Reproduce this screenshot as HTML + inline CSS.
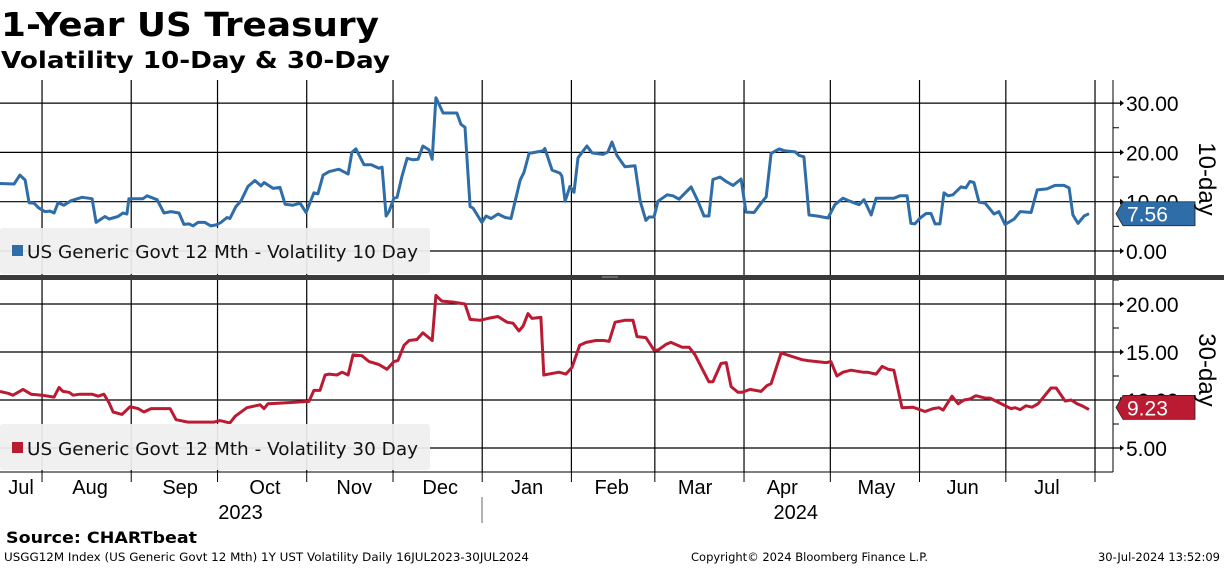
<!DOCTYPE html>
<html><head><meta charset="utf-8"><style>
body{margin:0;background:#fff;width:1224px;height:566px;overflow:hidden;font-family:"Liberation Sans",sans-serif;}
svg text{font-family:"Liberation Sans",sans-serif;}
svg text.dv{font-family:"DejaVu Sans",sans-serif;}
</style></head><body>
<svg id="chart" width="1224" height="566" xmlns="http://www.w3.org/2000/svg">
<text class="dv" x="1" y="36" font-size="33" font-weight="bold" fill="#000" textLength="378" lengthAdjust="spacingAndGlyphs">1-Year US Treasury</text>
<text class="dv" x="1" y="68" font-size="23" font-weight="bold" fill="#000" textLength="389" lengthAdjust="spacingAndGlyphs">Volatility 10-Day &amp; 30-Day</text>
<g id="grid"></g>
<g id="series"></g>
<g id="labels"></g>
<rect x="0" y="275" width="1224" height="5" fill="#3a3a3a"/>
<line x1="602" y1="277" x2="618" y2="277" stroke="#999" stroke-width="1"/>
<g>
<rect x="0" y="228" width="430" height="46" rx="3" fill="#efefef" fill-opacity="0.93"/>
<rect x="12" y="245" width="11" height="11" fill="#2e6da8"/>
<text class="dv" x="27" y="258" font-size="18" fill="#111" textLength="391" lengthAdjust="spacingAndGlyphs">US Generic Govt 12 Mth - Volatility 10 Day</text>
</g>
<g>
<rect x="0" y="424" width="430" height="46" rx="3" fill="#efefef" fill-opacity="0.93"/>
<rect x="12" y="442" width="11" height="11" fill="#bb1a33"/>
<text class="dv" x="27" y="455" font-size="18" fill="#111" textLength="391" lengthAdjust="spacingAndGlyphs">US Generic Govt 12 Mth - Volatility 30 Day</text>
</g>
<text class="dv" x="6" y="543" font-size="16" font-weight="bold" textLength="191" lengthAdjust="spacingAndGlyphs">Source: CHARTbeat</text>
<text class="dv" x="4" y="561" font-size="11.5" textLength="525" lengthAdjust="spacingAndGlyphs">USGG12M Index (US Generic Govt 12 Mth) 1Y UST Volatility  Daily 16JUL2023-30JUL2024</text>
<text class="dv" x="691" y="561" font-size="11.5">Copyright© 2024 Bloomberg Finance L.P.</text>
<text class="dv" x="1220" y="561" font-size="11.5" text-anchor="end">30-Jul-2024 13:52:09</text>
</svg>
<script>
const monthDays=[16,47,77,108,138,169,200,229,260,290,321,351,382];
const monthLabels=["Jul","Aug","Sep","Oct","Nov","Dec","Jan","Feb","Mar","Apr","May","Jun","Jul"];
const monthLabelDays=[8.7,32.7,64,93.5,124.5,154.4,184.6,214,243,273.3,306,336,365.3];
const yearLabels=["2023","2024"];
const topTicks=[0,10,20,30];
const botTicks=[5,10,15,20];
const days10=[1.4,6.3,8.3,10.1,11.5,13.2,14.9,17.0,18.8,20.2,21.6,23.6,26.1,29.9,33.4,34.8,37.9,39.3,42.4,44.1,45.5,46.2,51.1,52.5,56.0,58.4,60.8,63.6,65.3,67.1,68.5,70.2,72.6,74.7,76.5,78.2,80.3,81.3,83.4,85.2,87.6,90.0,92.1,93.2,96.3,98.7,100.5,103.2,105.7,107.8,110.5,111.9,113.7,115.8,119.2,122.4,123.7,125.1,127.9,130.4,133.1,134.2,135.6,136.6,138.3,139.4,141.1,142.9,145.0,146.7,148.4,150.5,151.6,152.9,155.4,160.2,161.6,163.0,164.8,165.8,168.9,170.3,172.1,174.5,177.0,179.0,182.2,183.5,185.3,190.1,190.8,193.3,196.0,196.7,197.8,199.5,200.9,202.3,205.4,207.2,211.0,212.7,214.1,215.8,218.6,222.1,223.9,225.9,227.0,228.7,230.1,233.3,235.3,237.4,241.6,243.9,246.1,247.8,249.2,251.7,253.8,256.2,259.0,260.7,263.5,265.9,267.7,269.4,272.2,274.3,277.8,279.1,280.8,282.6,285.4,289.2,291.6,294.4,296.8,300.0,301.7,304.2,305.9,312.1,314.2,316.7,318.0,319.4,321.2,323.3,325.0,326.4,328.1,329.5,330.9,332.6,335.4,337.1,338.5,339.9,341.7,343.8,346.9,348.6,350.7,353.9,356.0,358.4,359.8,361.9,365.3,368.1,371.2,373.0,374.3,376.1,378.2,379.9];
const vol10=[13.7,13.6,15.4,14.4,9.8,9.7,8.7,8.0,8.1,7.7,9.8,9.3,10.2,10.9,10.6,5.8,7.0,6.5,7.0,7.7,7.5,10.6,10.6,11.2,10.4,7.7,8.0,7.7,5.4,5.5,5.1,5.8,5.8,5.1,5.3,5.8,6.8,6.6,9.0,10.2,13.1,14.3,13.2,13.9,12.7,12.9,9.5,9.3,9.7,7.8,11.8,11.6,15.4,16.1,16.6,15.6,20.0,20.7,17.5,17.5,16.8,17.0,7.1,8.0,10.7,10.9,15.1,18.8,18.5,18.6,21.3,20.5,18.6,31.1,28.0,28.0,25.7,25.1,9.0,8.7,5.8,7.1,6.6,7.5,6.8,6.6,14.4,15.9,19.8,20.3,20.8,16.4,15.8,15.2,10.1,13.1,11.9,18.9,21.3,19.9,19.6,20.1,22.1,19.4,17.1,17.3,10.1,6.2,6.9,6.9,10.1,11.4,11.2,10.5,13.0,10.2,7.1,7.1,14.5,15.0,14.1,13.3,14.6,7.9,7.8,9.7,11.0,19.8,20.7,20.3,20.1,19.4,19.1,7.3,7.1,6.7,9.4,10.7,10.1,9.4,10.4,7.3,10.7,10.7,11.2,11.2,5.6,5.5,6.7,7.6,7.6,5.5,5.5,11.8,11.2,11.4,13.0,12.8,14.1,13.9,9.9,9.7,7.5,8.0,5.4,6.5,8.0,7.9,7.8,12.4,12.6,13.3,13.3,12.8,7.3,5.6,7.1,7.56];
const days30=[1.4,4.2,5.9,9.4,12.2,16.0,20.2,21.9,23.3,25.4,26.8,29.2,33.4,35.5,37.5,39.3,40.7,43.8,46.6,49.4,51.4,53.9,60.5,62.6,66.7,75.8,77.9,80.0,81.3,83.1,87.2,91.8,93.2,94.5,97.3,103.2,108.8,110.5,112.6,114.4,115.8,118.5,120.3,122.4,124.1,127.2,129.7,133.1,135.9,138.3,139.7,141.8,143.6,146.3,148.4,151.6,152.9,155.0,158.9,163.0,164.8,168.2,171.0,174.5,177.6,179.7,181.8,183.2,184.9,186.3,189.4,190.4,195.7,198.1,200.2,202.9,205.1,208.5,211.3,213.1,215.2,218.6,221.4,222.8,225.9,228.7,230.1,232.9,234.6,238.5,240.9,243.0,245.7,247.8,249.2,252.0,253.8,255.5,257.9,259.3,262.1,265.9,268.0,269.4,272.9,280.2,282.2,288.5,290.2,292.3,294.4,297.2,301.4,302.8,305.9,308.0,310.1,312.1,314.9,318.7,322.9,325.7,327.8,329.2,332.3,334.4,336.5,338.5,340.6,343.8,345.5,352.8,354.2,356.0,358.0,360.1,362.2,366.7,368.5,371.6,373.7,375.8,377.5,379.9];
const vol30=[10.9,10.7,10.5,11.1,10.6,10.5,10.3,11.3,10.9,10.8,10.5,10.6,10.6,10.4,10.6,9.7,8.75,8.5,9.3,9.1,8.75,9.1,9.1,7.95,7.7,7.7,7.85,7.7,7.6,8.3,9.2,9.5,9.1,9.6,9.65,9.75,9.85,11.0,11.0,12.6,12.7,12.6,12.9,12.6,14.7,14.6,14.0,13.7,13.2,14.0,14.1,15.7,16.2,16.3,17.0,16.2,20.9,20.3,20.2,20.0,18.4,18.3,18.5,18.7,18.1,18.0,17.2,17.7,19.0,18.5,18.6,12.6,12.9,12.7,13.4,15.7,16.0,16.2,16.2,16.1,18.1,18.3,18.3,16.6,16.5,15.2,15.2,15.8,16.0,15.5,15.5,14.7,13.1,11.9,11.9,13.8,13.9,11.4,10.8,10.8,11.1,10.9,11.5,11.7,14.9,14.2,14.1,13.9,14.0,12.5,12.9,13.1,12.9,12.9,12.7,13.5,13.2,13.1,9.2,9.25,8.8,9.1,9.2,8.95,10.4,9.6,10.0,10.1,10.45,10.2,10.2,9.1,9.2,9.0,9.4,9.25,9.6,11.25,11.25,9.9,10.0,9.6,9.4,9.0,9.23];

const NS="http://www.w3.org/2000/svg";
const AX=1113;
function x(d){return -4+d*2.877;}
function yTop(v){return 251-v*4.93;}
function yBot(v){return 448-(v-5)*9.6;}
function mk(tag,attrs,parent){const e=document.createElementNS(NS,tag);for(const k in attrs)e.setAttribute(k,attrs[k]);parent.appendChild(e);return e;}
const grid=document.getElementById('grid'),ser=document.getElementById('series'),lab=document.getElementById('labels');

monthDays.forEach(d=>{
  const l=mk('line',{x1:x(d),x2:x(d),y1:80,y2:472,stroke:'#000','stroke-width':1.2},grid);
  
  
  mk('line',{x1:x(d),x2:x(d),y1:472,y2:482,stroke:'#000','stroke-width':1},grid);
});
mk('line',{x1:AX,x2:AX,y1:80,y2:472,stroke:'#000','stroke-width':1},grid);
mk('line',{x1:0,x2:AX,y1:472,y2:472,stroke:'#000','stroke-width':1},grid);
mk('line',{x1:482,x2:482,y1:497,y2:523,stroke:'#666','stroke-width':1},grid);

function yaxis(ticks,f,minorStep){
  ticks.forEach(v=>{
    const y=f(v);
    const l=mk('line',{x1:0,x2:AX+7,y1:y,y2:y,stroke:'#000','stroke-width':1.2},grid);
    
    
    mk('path',{d:`M${AX+7} ${y-3}L${AX+11} ${y}L${AX+7} ${y+3}Z`,fill:'#000'},grid);
    const t=mk('text',{x:AX+13,y:y+8,'font-size':21,fill:'#000'},lab);
    t.textContent=v.toFixed(2);
    
    
    const ym=f(v+minorStep);
    if(ym>80&&ym<472) mk('line',{x1:AX,x2:AX+6,y1:ym,y2:ym,stroke:'#000','stroke-width':1},grid);
  });
}
yaxis(topTicks,yTop,5);
yaxis(botTicks,yBot,2.5);

function line(days,vals,f,color,name){
  const d=days.map((dd,i)=>(i?'L':'M')+x(dd).toFixed(1)+' '+f(vals[i]).toFixed(1)).join('');
  const p=mk('path',{d:d,fill:'none',stroke:color,'stroke-width':3,'stroke-linejoin':'round'},ser);
  
  
}
line(days10,vol10,yTop,'#2e6da8','line-volatility-10day');
line(days30,vol30,yBot,'#bb1a33','line-volatility-30day');

function tag(v,f,color,name){
  const y=f(v);
  const g=mk('g',{},lab);
  
  
  mk('path',{d:`M${AX+3} ${y}L${AX+10} ${y-12}L${AX+82} ${y-12}L${AX+82} ${y+12}L${AX+10} ${y+12}Z`,fill:color,stroke:'#222','stroke-width':0.8},g);
  const t=mk('text',{x:AX+14,y:y+8,'font-size':21,fill:'#fff'},g);
  t.textContent=v.toFixed(2);
}
tag(vol10[vol10.length-1],yTop,'#2e6da8','last-value-tag-10day');
tag(vol30[vol30.length-1],yBot,'#bb1a33','last-value-tag-30day');

function rot(txt,cy,name){
  const t=mk('text',{x:1199,y:cy,'font-size':24,fill:'#000',transform:`rotate(90 1199 ${cy})`,'text-anchor':'middle'},lab);
  t.textContent=txt;
  
  
}
rot('10-day',179,'y-axis-title-10day');
rot('30-day',370,'y-axis-title-30day');

monthLabels.forEach((m,i)=>{
  const t=mk('text',{x:x(monthLabelDays[i]),y:494,'font-size':20,'text-anchor':'middle',fill:'#000'},lab);
  t.textContent=m;
  
  
});
[[85,yearLabels[0]],[278,yearLabels[1]]].forEach(([d,s])=>{
  const t=mk('text',{x:x(d),y:519,'font-size':20,'text-anchor':'middle',fill:'#000'},lab);
  t.textContent=s;
  
  
});
</script>
</body></html>
